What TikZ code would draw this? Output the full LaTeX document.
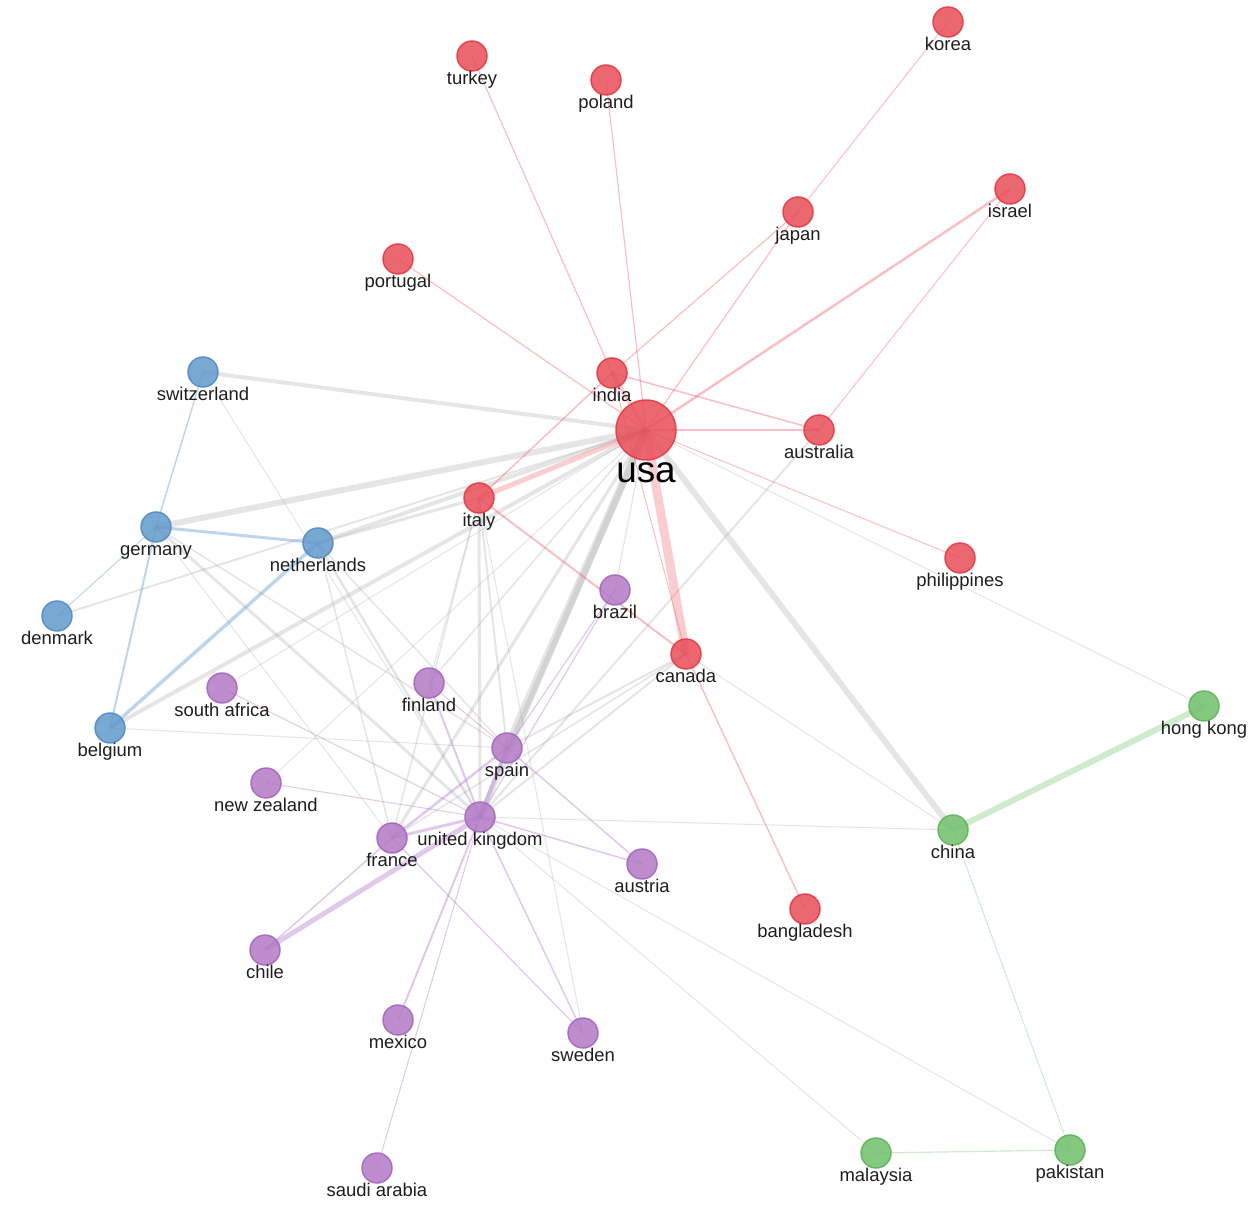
\documentclass[tikz,border=0pt]{standalone}
\usepackage{fontspec}
\setmainfont{Liberation Sans}
\definecolor{nred}{RGB}{233,78,88}
\definecolor{nredb}{RGB}{228,60,72}
\definecolor{nblue}{RGB}{98,153,204}
\definecolor{nblueb}{RGB}{84,140,196}
\definecolor{npurp}{RGB}{178,122,198}
\definecolor{npurpb}{RGB}{165,104,189}
\definecolor{ngreen}{RGB}{112,192,108}
\definecolor{ngreenb}{RGB}{96,180,92}
\definecolor{ered}{RGB}{240,95,105}
\definecolor{eblue}{RGB}{110,165,215}
\definecolor{epurp}{RGB}{180,120,205}
\definecolor{egreen}{RGB}{120,200,115}
\definecolor{egray}{RGB}{150,150,150}
\definecolor{labc}{RGB}{30,30,30}
\begin{document}
\begin{tikzpicture}[x=0.02cm,y=-0.02cm,
  er/.style={draw=ered,draw opacity=.4,line width=#1*0.567pt},
  ert/.style={draw=ered,draw opacity=.3,line width=#1*0.567pt},
  eb/.style={draw=eblue,draw opacity=.45,line width=#1*0.567pt},
  ep/.style={draw=epurp,draw opacity=.4,line width=#1*0.567pt},
  eg/.style={draw=egreen,draw opacity=.35,line width=#1*0.567pt},
  ex/.style={draw=egray,draw opacity=.24,line width=#1*0.567pt},
  nd/.style={circle,inner sep=0pt,minimum size=0.6cm,line width=1.5*0.567pt,fill opacity=.85,draw opacity=.9},
  rn/.style={nd,fill=nred,draw=nredb},
  bn/.style={nd,fill=nblue,draw=nblueb},
  pn/.style={nd,fill=npurp,draw=npurpb},
  gn/.style={nd,fill=ngreen,draw=ngreenb},
  lab/.style={anchor=base,text=labc,inner sep=0pt,font=\fontsize{10.5}{12}\selectfont},
]
\fill[white] (0,0) rectangle (1258,1212);
\useasboundingbox (0,0) rectangle (1258,1212);

% positions
\coordinate (korea) at (948,22);
\coordinate (turkey) at (472,56);
\coordinate (poland) at (606,80);
\coordinate (israel) at (1010,189);
\coordinate (japan) at (798,212);
\coordinate (portugal) at (398,259);
\coordinate (switzerland) at (203,372);
\coordinate (india) at (612,373);
\coordinate (usa) at (646,430);
\coordinate (australia) at (819,430);
\coordinate (italy) at (479,498);
\coordinate (germany) at (156,527);
\coordinate (netherlands) at (318,543);
\coordinate (philippines) at (960,558);
\coordinate (brazil) at (615,590);
\coordinate (denmark) at (57,616);
\coordinate (canada) at (686,654);
\coordinate (finland) at (429,683);
\coordinate (southafrica) at (222,688);
\coordinate (hongkong) at (1204,706);
\coordinate (belgium) at (110,728);
\coordinate (spain) at (507,748);
\coordinate (newzealand) at (266,783);
\coordinate (uk) at (480,817);
\coordinate (france) at (392,838);
\coordinate (china) at (953,830);
\coordinate (austria) at (642,864);
\coordinate (bangladesh) at (805,909);
\coordinate (chile) at (265,950);
\coordinate (mexico) at (398,1020);
\coordinate (sweden) at (583,1033);
\coordinate (saudi) at (377,1168);
\coordinate (malaysia) at (876,1153);
\coordinate (pakistan) at (1070,1150);

% gray inter-cluster edges
\draw[ex=4] (usa) -- (switzerland);
\draw[ex=6] (usa) -- (germany);
\draw[ex=4] (usa) -- (netherlands);
\draw[ex=3] (italy) -- (netherlands);
\draw[ex=4] (usa) -- (belgium);
\draw[ex=8] (usa) -- (spain);
\draw[ex=6] (usa) -- (uk);
\draw[ex=6] (usa) -- (china);
\draw[ex=3] (usa) -- (france);
\draw[ex=1.5] (usa) -- (finland);
\draw[ex=1.2] (usa) -- (brazil);
\draw[ex=3] (italy) -- (uk);
\draw[ex=2] (italy) -- (spain);
\draw[ex=1.5] (italy) -- (france);
\draw[ex=1] (italy) -- (finland);
\draw[ex=1] (italy) -- (sweden);
\draw[ex=3] (germany) -- (uk);
\draw[ex=1.5] (germany) -- (spain);
\draw[ex=1] (germany) -- (france);
\draw[ex=2.5] (netherlands) -- (uk);
\draw[ex=1.5] (netherlands) -- (spain);
\draw[ex=1.5] (netherlands) -- (france);
\draw[ex=1] (switzerland) -- (uk);
\draw[ex=2] (denmark) -- (usa);
\draw[ex=1] (belgium) -- (spain);
\draw[ex=1] (southafrica) -- (usa);
\draw[ex=1] (newzealand) -- (usa);
\draw[ex=2] (canada) -- (uk);
\draw[ex=2] (canada) -- (spain);
\draw[ex=1.5] (canada) -- (france);
\draw[ex=2] (australia) -- (uk);
\draw[ex=1] (usa) -- (hongkong);
\draw[ex=1] (canada) -- (china);
\draw[ex=1] (uk) -- (china);
\draw[ex=1] (uk) -- (pakistan);
\draw[ex=1] (uk) -- (malaysia);

% red
\draw[er=1.2] (turkey) -- (india);
\draw[er=1.2] (poland) -- (usa);
\draw[er=1.2] (portugal) -- (usa);
\draw[er=1] (korea) -- (japan);
\draw[er=1.2] (japan) -- (india);
\draw[er=1.2] (japan) -- (usa);
\draw[er=2.5] (israel) -- (usa);
\draw[er=1] (israel) -- (australia);
\draw[er=1.5] (india) -- (australia);
\draw[er=2] (usa) -- (australia);
\draw[ert=4] (india) -- (usa);
\draw[er=1.5] (india) -- (italy);
\draw[ert=5] (usa) -- (italy);
\draw[er=1] (usa) -- (philippines);
\draw[ert=9] (usa) -- (canada);
\draw[er=1] (india) -- (canada);
\draw[er=2] (italy) -- (canada);
\draw[er=1.5] (canada) -- (bangladesh);

% blue
\draw[eb=1.5] (switzerland) -- (germany);
\draw[eb=3] (germany) -- (netherlands);
\draw[eb=1] (germany) -- (denmark);
\draw[eb=2] (germany) -- (belgium);
\draw[eb=3.5] (netherlands) -- (belgium);

% green
\draw[eg=6] (china) -- (hongkong);
\draw[eg=1] (china) -- (pakistan);
\draw[eg=1.2] (malaysia) -- (pakistan);

% purple
\draw[ep=4] (uk) -- (spain);
\draw[ep=3] (uk) -- (france);
\draw[ep=2] (uk) -- (finland);
\draw[ep=1] (uk) -- (southafrica);
\draw[ep=1] (uk) -- (newzealand);
\draw[ep=1.5] (uk) -- (austria);
\draw[ep=2] (uk) -- (mexico);
\draw[ep=1] (uk) -- (saudi);
\draw[ep=1.5] (uk) -- (sweden);
\draw[ep=5] (uk) -- (chile);
\draw[ep=1.5] (france) -- (chile);
\draw[ep=2.5] (france) -- (spain);
\draw[ep=1.2] (france) -- (sweden);
\draw[ep=1.2] (spain) -- (brazil);
\draw[ep=1.2] (uk) -- (brazil);
\draw[ep=1.5] (spain) -- (austria);
\draw[ep=1] (spain) -- (finland);

% nodes
\node[rn] (n-korea) at (korea) {};
\node[rn] (n-turkey) at (turkey) {};
\node[rn] (n-poland) at (poland) {};
\node[rn] (n-israel) at (israel) {};
\node[rn] (n-japan) at (japan) {};
\node[rn] (n-portugal) at (portugal) {};
\node[rn] (n-india) at (india) {};
\node[rn,minimum size=1.2cm] (n-usa) at (usa) {};
\node[rn] (n-australia) at (australia) {};
\node[rn] (n-italy) at (italy) {};
\node[rn] (n-philippines) at (philippines) {};
\node[rn] (n-canada) at (canada) {};
\node[rn] (n-bangladesh) at (bangladesh) {};
\node[bn] (n-switzerland) at (switzerland) {};
\node[bn] (n-germany) at (germany) {};
\node[bn] (n-netherlands) at (netherlands) {};
\node[bn] (n-denmark) at (denmark) {};
\node[bn] (n-belgium) at (belgium) {};
\node[pn] (n-brazil) at (brazil) {};
\node[pn] (n-finland) at (finland) {};
\node[pn] (n-southafrica) at (southafrica) {};
\node[pn] (n-spain) at (spain) {};
\node[pn] (n-newzealand) at (newzealand) {};
\node[pn] (n-uk) at (uk) {};
\node[pn] (n-france) at (france) {};
\node[pn] (n-austria) at (austria) {};
\node[pn] (n-chile) at (chile) {};
\node[pn] (n-mexico) at (mexico) {};
\node[pn] (n-sweden) at (sweden) {};
\node[pn] (n-saudi) at (saudi) {};
\node[gn] (n-hongkong) at (hongkong) {};
\node[gn] (n-china) at (china) {};
\node[gn] (n-malaysia) at (malaysia) {};
\node[gn] (n-pakistan) at (pakistan) {};

% labels
\node[lab] (l-korea) at ([yshift=-28.5*0.02cm]korea) {korea};
\node[lab] (l-turkey) at ([yshift=-28.5*0.02cm]turkey) {turkey};
\node[lab] (l-poland) at ([yshift=-28.5*0.02cm]poland) {poland};
\node[lab] (l-israel) at ([yshift=-28.5*0.02cm]israel) {israel};
\node[lab] (l-japan) at ([yshift=-28.5*0.02cm]japan) {japan};
\node[lab] (l-portugal) at ([yshift=-28.5*0.02cm]portugal) {portugal};
\node[lab] (l-india) at ([yshift=-28.5*0.02cm]india) {india};
\node[lab,font=\fontsize{21}{24}\selectfont,text=black] (l-usa) at ([yshift=-53*0.02cm]usa) {usa};
\node[lab] (l-australia) at ([yshift=-28.5*0.02cm]australia) {australia};
\node[lab] (l-italy) at ([yshift=-28.5*0.02cm]italy) {italy};
\node[lab] (l-philippines) at ([yshift=-28.5*0.02cm]philippines) {philippines};
\node[lab] (l-canada) at ([yshift=-28.5*0.02cm]canada) {canada};
\node[lab] (l-bangladesh) at ([yshift=-28.5*0.02cm]bangladesh) {bangladesh};
\node[lab] (l-switzerland) at ([yshift=-28.5*0.02cm]switzerland) {switzerland};
\node[lab] (l-germany) at ([yshift=-28.5*0.02cm]germany) {germany};
\node[lab] (l-netherlands) at ([yshift=-28.5*0.02cm]netherlands) {netherlands};
\node[lab] (l-denmark) at ([yshift=-28.5*0.02cm]denmark) {denmark};
\node[lab] (l-belgium) at ([yshift=-28.5*0.02cm]belgium) {belgium};
\node[lab] (l-brazil) at ([yshift=-28.5*0.02cm]brazil) {brazil};
\node[lab] (l-finland) at ([yshift=-28.5*0.02cm]finland) {finland};
\node[lab] (l-southafrica) at ([yshift=-28.5*0.02cm]southafrica) {south africa};
\node[lab] (l-spain) at ([yshift=-28.5*0.02cm]spain) {spain};
\node[lab] (l-newzealand) at ([yshift=-28.5*0.02cm]newzealand) {new zealand};
\node[lab] (l-uk) at ([yshift=-28.5*0.02cm]uk) {united kingdom};
\node[lab] (l-france) at ([yshift=-28.5*0.02cm]france) {france};
\node[lab] (l-austria) at ([yshift=-28.5*0.02cm]austria) {austria};
\node[lab] (l-chile) at ([yshift=-28.5*0.02cm]chile) {chile};
\node[lab] (l-mexico) at ([yshift=-28.5*0.02cm]mexico) {mexico};
\node[lab] (l-sweden) at ([yshift=-28.5*0.02cm]sweden) {sweden};
\node[lab] (l-saudi) at ([yshift=-28.5*0.02cm]saudi) {saudi arabia};
\node[lab] (l-hongkong) at ([yshift=-28.5*0.02cm]hongkong) {hong kong};
\node[lab] (l-china) at ([yshift=-28.5*0.02cm]china) {china};
\node[lab] (l-malaysia) at ([yshift=-28.5*0.02cm]malaysia) {malaysia};
\node[lab] (l-pakistan) at ([yshift=-28.5*0.02cm]pakistan) {pakistan};
\end{tikzpicture}
\end{document}
